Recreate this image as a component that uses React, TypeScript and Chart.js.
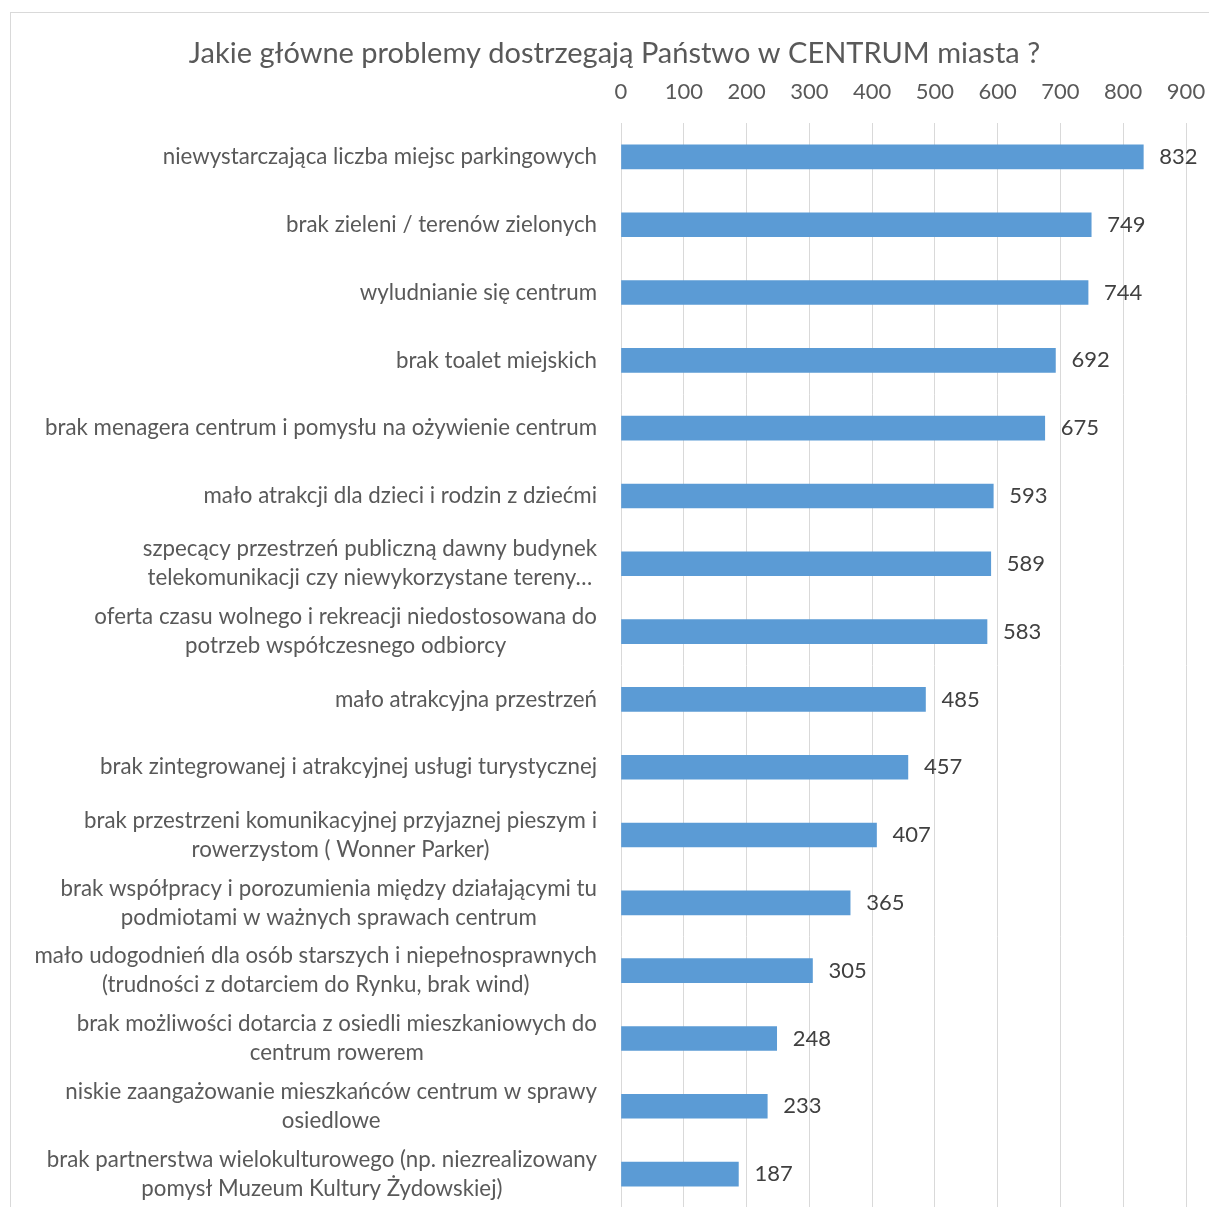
import React, { useEffect, useRef } from "react";
import { Chart, registerables } from "chart.js";

Chart.register(...registerables);

const TITLE = "Jakie główne problemy dostrzegają Państwo w CENTRUM miasta ?";

const categories: string[][] = [
  ["niewystarczająca liczba miejsc parkingowych"],
  ["brak zieleni / terenów zielonych"],
  ["wyludnianie się centrum"],
  ["brak toalet miejskich"],
  ["brak menagera centrum i pomysłu na ożywienie centrum"],
  ["mało atrakcji dla dzieci i rodzin z dziećmi"],
  ["szpecący przestrzeń publiczną dawny budynek", "telekomunikacji czy niewykorzystane tereny…"],
  ["oferta czasu wolnego i rekreacji niedostosowana do", "potrzeb współczesnego odbiorcy"],
  ["mało atrakcyjna przestrzeń"],
  ["brak zintegrowanej i atrakcyjnej usługi turystycznej"],
  ["brak przestrzeni komunikacyjnej przyjaznej pieszym i", "rowerzystom ( Wonner Parker)"],
  ["brak współpracy i porozumienia między działającymi tu", "podmiotami w ważnych sprawach centrum"],
  ["mało udogodnień dla osób starszych i niepełnosprawnych", "(trudności z dotarciem do Rynku, brak wind)"],
  ["brak możliwości dotarcia z osiedli mieszkaniowych do", "centrum rowerem"],
  ["niskie zaangażowanie mieszkańców centrum w sprawy", "osiedlowe"],
  ["brak partnerstwa wielokulturowego (np. niezrealizowany", "pomysł Muzeum Kultury Żydowskiej)"],
];

const values: number[] = [832, 749, 744, 692, 675, 593, 589, 583, 485, 457, 407, 365, 305, 248, 233, 187];

const xTicks: number[] = [0, 100, 200, 300, 400, 500, 600, 700, 800, 900];

const FONT = "Lato";
const LABEL_SIZE = 22.3;

const categoryLabelPlugin = {
  id: "categoryLabels",
  afterDraw(chart: any) {
    const { ctx, chartArea } = chart;
    const yScale = chart.scales.y;
    const right = chartArea.left - 24;
    const lh = 29;
    ctx.save();
    ctx.font = `${LABEL_SIZE}px ${FONT}`;
    ctx.fillStyle = "#595959";
    ctx.textAlign = "center";
    ctx.textBaseline = "middle";
    categories.forEach((lines, i) => {
      const yc = yScale.getPixelForValue(i);
      const maxW = Math.max(...lines.map((l) => ctx.measureText(l).width));
      const cx = right - maxW / 2;
      const startY = yc - ((lines.length - 1) * lh) / 2;
      lines.forEach((l, j) => ctx.fillText(l, cx, startY + j * lh));
    });
    ctx.restore();
  },
};

const valueLabelPlugin = {
  id: "valueLabels",
  afterDatasetsDraw(chart: any) {
    const { ctx } = chart;
    const meta = chart.getDatasetMeta(0);
    ctx.save();
    ctx.font = `22px ${FONT}`;
    ctx.fillStyle = "#404040";
    ctx.textAlign = "left";
    ctx.textBaseline = "middle";
    meta.data.forEach((bar: any, i: number) => {
      ctx.fillText(String(values[i]), bar.x + 16, bar.y);
    });
    ctx.restore();
  },
};

export default function App() {
  const ref = useRef<HTMLCanvasElement | null>(null);
  useEffect(() => {
    if (!ref.current) return;
    const chart = new Chart(ref.current, {
      type: "bar",
      data: {
        labels: categories.map((c) => c.join(" ")),
        datasets: [
          {
            data: values,
            backgroundColor: "#5b9bd5",
            borderWidth: 0,
            barThickness: 24,
          },
        ],
      },
      options: {
        indexAxis: "y",
        responsive: false,
        animation: false,
        layout: { padding: { left: 32, right: 23, top: 0, bottom: 20 } },
        plugins: {
          legend: { display: false },
          tooltip: { enabled: false },
          title: {
            display: true,
            text: TITLE,
            color: "#595959",
            font: { family: FONT, size: 29, weight: "normal" },
            padding: { top: 23.6, bottom: 0 },
          },
        },
        scales: {
          x: {
            position: "top",
            min: 0,
            max: 900,
            afterBuildTicks: (s: any) => {
              s.ticks = xTicks.map((v) => ({ value: v }));
            },
            afterFit: (s: any) => {
              s.height = 51.6;
              s.paddingLeft = 0;
              s.paddingRight = 0;
            },
            ticks: {
              color: "#595959",
              font: { family: FONT, size: 22 },
              padding: 17.8,
              maxRotation: 0,
            },
            grid: { color: "#d9d9d9", lineWidth: 1, drawTicks: false },
            border: { display: false },
          },
          y: {
            ticks: { display: false },
            grid: { display: false },
            border: { display: false },
            afterFit: (s: any) => {
              s.width = 578;
            },
          },
        },
      },
      plugins: [categoryLabelPlugin, valueLabelPlugin],
    });
    return () => chart.destroy();
  }, []);

  return (
    <div
      style={{
        position: "absolute",
        left: 10,
        top: 12,
        width: 1199,
        height: 1195,
        boxSizing: "border-box",
        borderTop: "1px solid #d9d9d9",
        borderLeft: "1px solid #d9d9d9",
        overflow: "hidden",
        background: "#fff",
      }}
    >
      <canvas ref={ref} width={1198} height={1215} style={{ display: "block" }} />
    </div>
  );
}
